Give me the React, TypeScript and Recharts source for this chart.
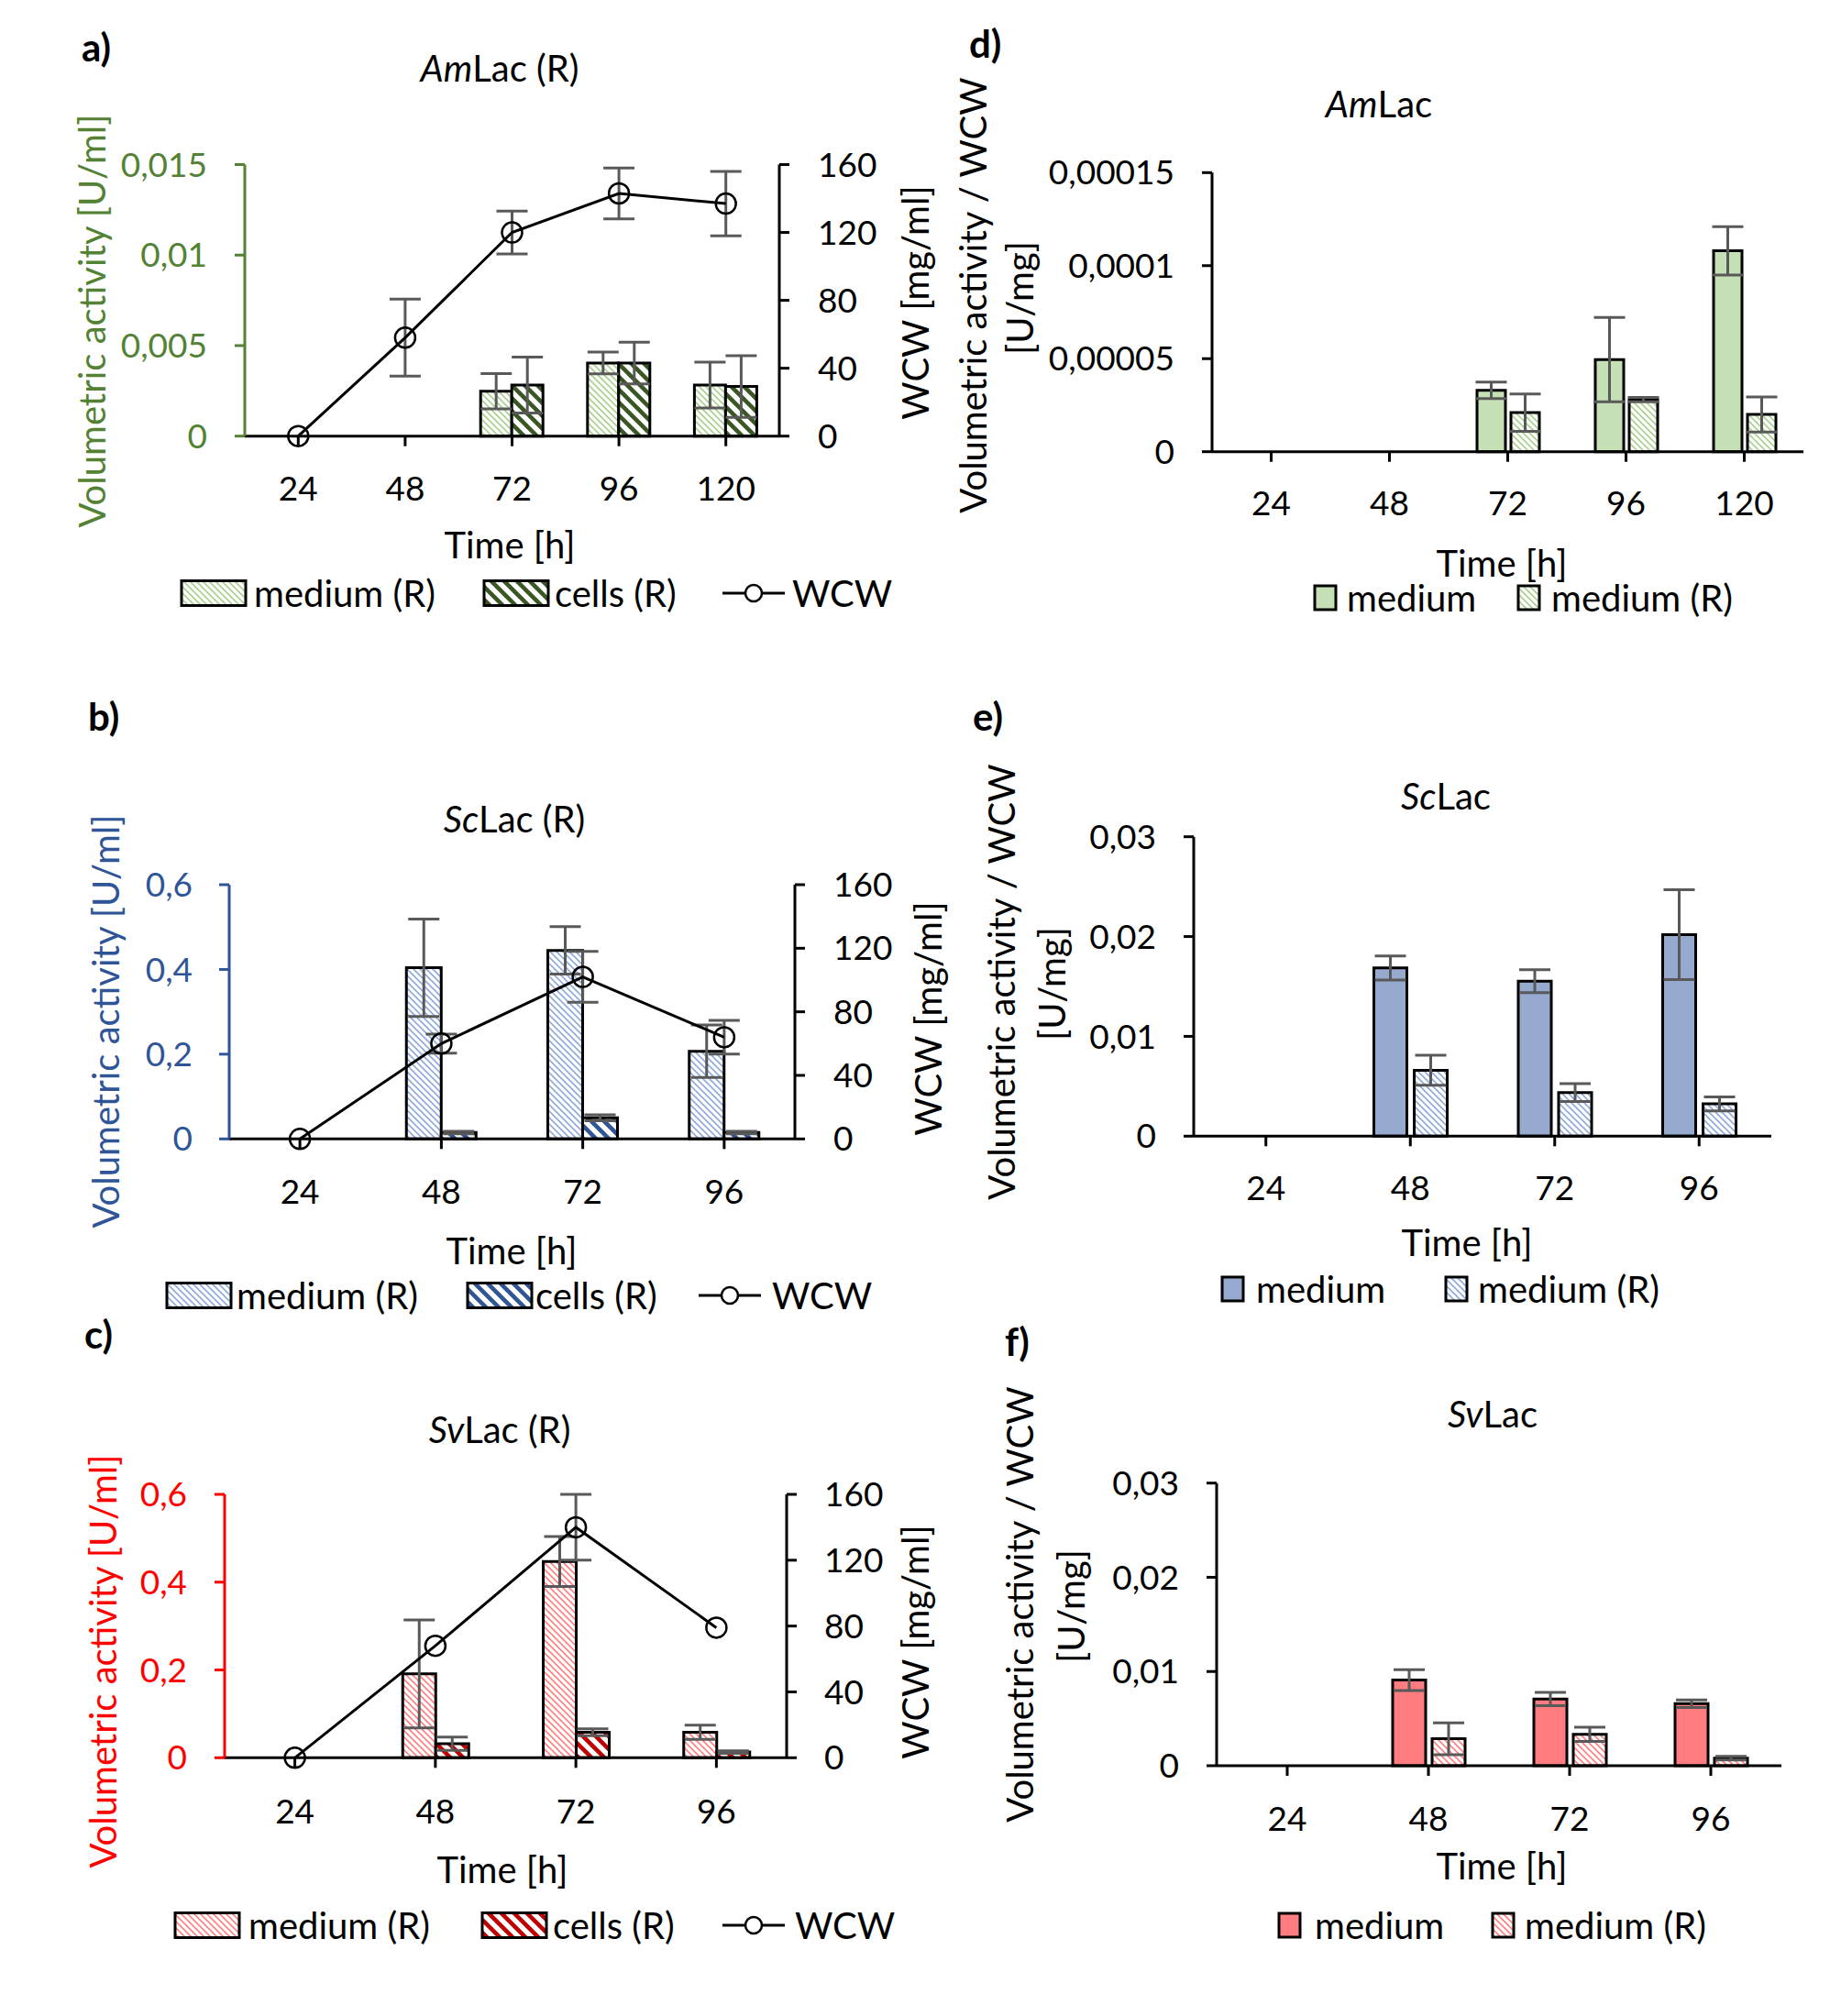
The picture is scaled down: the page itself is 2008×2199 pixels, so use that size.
import React from 'react';
import { ComposedChart, BarChart, Bar, Line, XAxis, YAxis, ErrorBar } from 'recharts';

const FONT = 'Lato, "Open Sans", sans-serif';
const ERR = '#595959';
const GREEN = '#548235';
const BLUE = '#2F5597';
const RED = '#FF0000';

// ---- a) AmLac (R): volumetric activity [U/ml] + WCW [mg/ml]
const amTimes = ['24', '48', '72', '96', '120'];
const amMediumR = [null, null, 0.00248, 0.00404, 0.00282];
const amMediumRErr = [null, null, 0.00097, 0.0006, 0.00127];
const amCellsR = [null, null, 0.00282, 0.00404, 0.00274];
const amCellsRErr = [null, null, 0.00155, 0.00115, 0.0017];
const amWcw = [0, 58, 120, 143, 137];
const amWcwErr = [null, 22.7, 12.6, 15, 19];
const amActTicks = [0, 0.005, 0.01, 0.015];

// ---- b) ScLac (R)
const scTimes = ['24', '48', '72', '96'];
const scMediumR = [null, 0.404, 0.445, 0.207];
const scMediumRErr = [null, 0.115, 0.056, 0.062];
const scCellsR = [null, 0.015, 0.05, 0.015];
const scCellsRErr = [null, 0.003, 0.007, 0.003];
const scWcw = [0, 60, 102, 64];
const scWcwErr = [null, 6, 16, 10.6];

// ---- c) SvLac (R)
const svTimes = ['24', '48', '72', '96'];
const svMediumR = [null, 0.191, 0.447, 0.058];
const svMediumRErr = [null, 0.123, 0.057, 0.016];
const svCellsR = [null, 0.032, 0.058, 0.013];
const svCellsRErr = [null, 0.015, 0.008, 0.003];
const svWcw = [0, 68, 140, 79];
const svWcwErr = [null, null, 20, null];

const lacActTicks = [0, 0.2, 0.4, 0.6];
const wcwTicks = [0, 40, 80, 120, 160];

// ---- d) AmLac specific activity [U/mg]
const amSpecMedium = [null, null, 0.000033, 0.0000495, 0.000108];
const amSpecMediumErr = [null, null, 0.0000044, 0.0000227, 0.000013];
const amSpecMediumR = [null, null, 0.000021, 0.000028, 0.00002];
const amSpecMediumRErr = [null, null, 0.00001, 0.0000012, 0.0000094];
const amSpecTicks = [0, 0.00005, 0.0001, 0.00015];

// ---- e) ScLac specific activity
const scSpecMedium = [null, 0.01685, 0.01553, 0.0202];
const scSpecMediumErr = [null, 0.0012, 0.00115, 0.0045];
const scSpecMediumR = [null, 0.0066, 0.00437, 0.00324];
const scSpecMediumRErr = [null, 0.0015, 0.0009, 0.0007];

// ---- f) SvLac specific activity
const svSpecMedium = [null, 0.00909, 0.00708, 0.00659];
const svSpecMediumErr = [null, 0.0011, 0.0007, 0.0004];
const svSpecMediumR = [null, 0.00286, 0.00334, 0.0008];
const svSpecMediumRErr = [null, 0.0017, 0.00075, 0.0002];

const specTicks = [0, 0.01, 0.02, 0.03];

const dualRows = (times, med, medErr, cells, cellsErr, wcw, wcwErr) =>
  times.map((time, i) => ({
    time,
    medium: med[i],
    mediumErr: medErr[i],
    cells: cells[i],
    cellsErr: cellsErr[i],
    wcw: wcw[i],
    wcwErr: wcwErr[i],
  }));

const specRows = (times, med, medErr, medR, medRErr) =>
  times.map((time, i) => ({
    time,
    medium: med[i],
    mediumErr: medErr[i],
    mediumR: medR[i],
    mediumRErr: medRErr[i],
  }));

const commaFmt = (v: number) => String(v).replace('.', ',');

const Y_W = 100;
const X_H = 60;
const TICK_FS = 37;

function marginFor(box, plot, rightAxis) {
  return {
    top: plot.y0 - box.top,
    bottom: box.top + box.h - plot.y1 - X_H,
    left: plot.x0 - box.left - Y_W,
    right: box.left + box.w - plot.x1 - (rightAxis ? Y_W : 0),
  };
}

const axisStyle = (c: string) => ({ stroke: c, strokeWidth: 3 });
const tickStyle = (c: string) => ({ fill: c, fontSize: TICK_FS, fontFamily: FONT });

function DualPanel({ cfg, rows }) {
  const { box, plot, color, leftMax, leftTicks, barSize, medFill, cellsFill, tm } = cfg;
  return (
    <div style={{ position: 'absolute', left: box.left, top: box.top }}>
      <ComposedChart
        width={box.w}
        height={box.h}
        data={rows}
        margin={marginFor(box, plot, true)}
        barSize={barSize}
        barGap={0}
      >
        <XAxis
          dataKey="time"
          height={X_H}
          tickSize={11}
          tickMargin={tm.x}
          interval={0}
          axisLine={axisStyle('#000')}
          tickLine={axisStyle('#000')}
          tick={tickStyle('#000')}
        />
        <YAxis
          yAxisId="act"
          width={Y_W}
          domain={[0, leftMax]}
          ticks={leftTicks}
          interval={0}
          tickFormatter={commaFmt}
          tickSize={11}
          tickMargin={tm.left}
          axisLine={axisStyle(color)}
          tickLine={axisStyle(color)}
          tick={tickStyle(color)}
        />
        <YAxis
          yAxisId="wcw"
          orientation="right"
          width={Y_W}
          domain={[0, 160]}
          ticks={wcwTicks}
          interval={0}
          tickSize={11}
          tickMargin={tm.right}
          axisLine={axisStyle('#000')}
          tickLine={axisStyle('#000')}
          tick={tickStyle('#000')}
        />
        <Bar yAxisId="act" dataKey="medium" fill={medFill} stroke="#000" strokeWidth={3} isAnimationActive={false}>
          <ErrorBar dataKey="mediumErr" width={17} stroke={ERR} strokeWidth={3} direction="y" />
        </Bar>
        <Bar yAxisId="act" dataKey="cells" fill={cellsFill} stroke="#000" strokeWidth={3} isAnimationActive={false}>
          <ErrorBar dataKey="cellsErr" width={17} stroke={ERR} strokeWidth={3} direction="y" />
        </Bar>
        <Line
          yAxisId="wcw"
          type="linear"
          dataKey="wcw"
          stroke="#000"
          strokeWidth={3}
          dot={{ r: 11, fill: 'none', stroke: '#000', strokeWidth: 2.5 }}
          activeDot={false}
          isAnimationActive={false}
        >
          <ErrorBar dataKey="wcwErr" width={17} stroke={ERR} strokeWidth={3} direction="y" />
        </Line>
      </ComposedChart>
    </div>
  );
}

function SpecPanel({ cfg, rows }) {
  const { box, plot, max, ticks, barSize, barGap, medFill, medRFill, tm } = cfg;
  return (
    <div style={{ position: 'absolute', left: box.left, top: box.top }}>
      <BarChart
        width={box.w}
        height={box.h}
        data={rows}
        margin={marginFor(box, plot, false)}
        barSize={barSize}
        barGap={barGap}
      >
        <XAxis
          dataKey="time"
          height={X_H}
          tickSize={11}
          tickMargin={tm.x}
          interval={0}
          axisLine={axisStyle('#000')}
          tickLine={axisStyle('#000')}
          tick={tickStyle('#000')}
        />
        <YAxis
          width={Y_W}
          domain={[0, max]}
          ticks={ticks}
          interval={0}
          tickFormatter={commaFmt}
          tickSize={11}
          tickMargin={tm.left}
          axisLine={axisStyle('#000')}
          tickLine={axisStyle('#000')}
          tick={tickStyle('#000')}
        />
        <Bar dataKey="medium" fill={medFill} stroke="#000" strokeWidth={3} isAnimationActive={false}>
          <ErrorBar dataKey="mediumErr" width={17} stroke={ERR} strokeWidth={3} direction="y" />
        </Bar>
        <Bar dataKey="mediumR" fill={medRFill} stroke="#000" strokeWidth={3} isAnimationActive={false}>
          <ErrorBar dataKey="mediumRErr" width={17} stroke={ERR} strokeWidth={3} direction="y" />
        </Bar>
      </BarChart>
    </div>
  );
}

function Hatch({ id, color, size, sw }) {
  const s = size;
  return (
    <pattern id={id} patternUnits="userSpaceOnUse" width={s} height={s}>
      <rect width={s} height={s} fill="#fff" />
      <path
        d={`M${-s},${-s} L${2 * s},${2 * s} M${-s},0 L${s},${2 * s} M0,${-s} L${2 * s},${s}`}
        stroke={color}
        strokeWidth={sw}
      />
    </pattern>
  );
}

const panelA = {
  box: { left: 0, top: 100, w: 1000, h: 500 },
  plot: { x0: 267, x1: 850, y0: 179.5, y1: 475.7 },
  color: GREEN,
  leftMax: 0.015,
  leftTicks: amActTicks,
  barSize: 34,
  medFill: 'url(#amMedR)',
  cellsFill: 'url(#amCells)',
  tm: { x: 33, left: 30, right: 31 },
};
const panelB = {
  box: { left: 0, top: 900, w: 1000, h: 480 },
  plot: { x0: 250, x1: 867, y0: 965, y1: 1242.3 },
  color: BLUE,
  leftMax: 0.6,
  leftTicks: lacActTicks,
  barSize: 38,
  medFill: 'url(#scMedR)',
  cellsFill: 'url(#scCells)',
  tm: { x: 33, left: 29, right: 31 },
};
const panelC = {
  box: { left: 0, top: 1580, w: 1000, h: 480 },
  plot: { x0: 245, x1: 858, y0: 1630, y1: 1917.3 },
  color: RED,
  leftMax: 0.6,
  leftTicks: lacActTicks,
  barSize: 36,
  medFill: 'url(#svMedR)',
  cellsFill: 'url(#svCells)',
  tm: { x: 34, left: 30, right: 30 },
};
const panelD = {
  box: { left: 1000, top: 140, w: 1000, h: 480 },
  plot: { x0: 1322, x1: 1967, y0: 188.3, y1: 492.7 },
  max: 0.00015,
  ticks: amSpecTicks,
  barSize: 31,
  barGap: 6,
  medFill: '#C5E0B4',
  medRFill: 'url(#amMedR)',
  tm: { x: 32, left: 30 },
};
const panelE = {
  box: { left: 1000, top: 860, w: 1000, h: 500 },
  plot: { x0: 1302, x1: 1932, y0: 912.7, y1: 1239.3 },
  max: 0.03,
  ticks: specTicks,
  barSize: 36,
  barGap: 8,
  medFill: '#96A9CF',
  medRFill: 'url(#scMedR)',
  tm: { x: 32, left: 30 },
};
const panelF = {
  box: { left: 1000, top: 1560, w: 1000, h: 500 },
  plot: { x0: 1327, x1: 1943, y0: 1617.7, y1: 1926 },
  max: 0.03,
  ticks: specTicks,
  barSize: 36,
  barGap: 7,
  medFill: '#FF7C80',
  medRFill: 'url(#svMedR)',
  tm: { x: 34, left: 30 },
};

const T = { fontFamily: FONT, fontSize: 40, fill: '#000' };

function Title({ x, y, ital, rest }) {
  return (
    <text x={x} y={y} textAnchor="middle" dominantBaseline="central" style={T}>
      <tspan fontStyle="italic">{ital}</tspan>
      <tspan>{rest}</tspan>
    </text>
  );
}

function Letter({ x, y, s }) {
  return (
    <text x={x} y={y} dominantBaseline="central" style={{ ...T, fontSize: 42, fontWeight: 700 }}>
      {s}
    </text>
  );
}

function Mid({ x, y, s, color = '#000' }) {
  return (
    <text x={x} y={y} textAnchor="middle" dominantBaseline="central" style={{ ...T, fill: color }}>
      {s}
    </text>
  );
}

function VText({ x, y, s, color = '#000' }) {
  return (
    <text
      x={x}
      y={y}
      transform={`rotate(-90 ${x} ${y})`}
      textAnchor="middle"
      dominantBaseline="central"
      style={{ ...T, fill: color }}
    >
      {s}
    </text>
  );
}

function Left({ x, y, s }) {
  return (
    <text x={x} y={y} dominantBaseline="central" style={T}>
      {s}
    </text>
  );
}

function DualLegend({ y, items, medFill, cellsFill }) {
  const [m, c, w] = items;
  return (
    <g>
      <rect x={m.sx} y={y - 13.5} width={70} height={27} fill={medFill} stroke="#000" strokeWidth={3} />
      <Left x={m.tx} y={y} s="medium (R)" />
      <rect x={c.sx} y={y - 13.5} width={70} height={27} fill={cellsFill} stroke="#000" strokeWidth={3} />
      <Left x={c.tx} y={y} s="cells (R)" />
      <line x1={w.sx} x2={w.sx + 68} y1={y} y2={y} stroke="#000" strokeWidth={3} />
      <circle cx={w.sx + 34} cy={y} r={9} fill="#fff" stroke="#000" strokeWidth={2.5} />
      <Left x={w.tx} y={y} s="WCW" />
    </g>
  );
}

function SpecLegend({ y, items, medFill, medRFill }) {
  const [m, r] = items;
  return (
    <g>
      <rect x={m.sx} y={y - 13} width={23} height={26} fill={medFill} stroke="#000" strokeWidth={3} />
      <Left x={m.tx} y={y} s="medium" />
      <rect x={r.sx} y={y - 13} width={23} height={26} fill={medRFill} stroke="#000" strokeWidth={3} />
      <Left x={r.tx} y={y} s="medium (R)" />
    </g>
  );
}

export default function App() {
  const rowsA = dualRows(amTimes, amMediumR, amMediumRErr, amCellsR, amCellsRErr, amWcw, amWcwErr);
  const rowsB = dualRows(scTimes, scMediumR, scMediumRErr, scCellsR, scCellsRErr, scWcw, scWcwErr);
  const rowsC = dualRows(svTimes, svMediumR, svMediumRErr, svCellsR, svCellsRErr, svWcw, svWcwErr);
  const rowsD = specRows(amTimes, amSpecMedium, amSpecMediumErr, amSpecMediumR, amSpecMediumRErr);
  const rowsE = specRows(scTimes, scSpecMedium, scSpecMediumErr, scSpecMediumR, scSpecMediumRErr);
  const rowsF = specRows(svTimes, svSpecMedium, svSpecMediumErr, svSpecMediumR, svSpecMediumRErr);

  return (
    <div
      style={{
        position: 'absolute',
        left: 0,
        top: 0,
        width: 2008,
        height: 2199,
        background: '#fff',
        fontFamily: FONT,
        overflow: 'hidden',
      }}
    >
      <svg width={0} height={0} style={{ position: 'absolute' }}>
        <defs>
          <Hatch id="amMedR" color="#A9D18E" size={7} sw={1.6} />
          <Hatch id="amCells" color="#385723" size={14} sw={4.5} />
          <Hatch id="scMedR" color="#8FAADC" size={7} sw={1.6} />
          <Hatch id="scCells" color="#2F5597" size={14} sw={4.5} />
          <Hatch id="svMedR" color="#FF8080" size={7} sw={1.6} />
          <Hatch id="svCells" color="#C00000" size={14} sw={4.5} />
        </defs>
      </svg>

      <DualPanel cfg={panelA} rows={rowsA} />
      <DualPanel cfg={panelB} rows={rowsB} />
      <DualPanel cfg={panelC} rows={rowsC} />
      <SpecPanel cfg={panelD} rows={rowsD} />
      <SpecPanel cfg={panelE} rows={rowsE} />
      <SpecPanel cfg={panelF} rows={rowsF} />

      <svg
        width={2008}
        height={2199}
        style={{ position: 'absolute', left: 0, top: 0, pointerEvents: 'none' }}
      >
        {/* a) */}
        <Letter x={89} y={51} s="a)" />
        <Title x={545} y={74} ital="Am" rest="Lac (R)" />
        <VText x={100} y={350} s="Volumetric activity [U/ml]" color={GREEN} />
        <VText x={998} y={330} s="WCW [mg/ml]" />
        <Mid x={556} y={594} s="Time [h]" />
        <DualLegend
          y={647}
          items={[{ sx: 198, tx: 277 }, { sx: 528, tx: 605 }, { sx: 788, tx: 864 }]}
          medFill="url(#amMedR)"
          cellsFill="url(#amCells)"
        />

        {/* b) */}
        <Letter x={96} y={781} s="b)" />
        <Title x={561} y={893} ital="Sc" rest="Lac (R)" />
        <VText x={115} y={1114} s="Volumetric activity [U/ml]" color={BLUE} />
        <VText x={1012} y={1111} s="WCW [mg/ml]" />
        <Mid x={558} y={1364} s="Time [h]" />
        <DualLegend
          y={1413}
          items={[{ sx: 182, tx: 258 }, { sx: 510, tx: 584 }, { sx: 762, tx: 842 }]}
          medFill="url(#scMedR)"
          cellsFill="url(#scCells)"
        />

        {/* c) */}
        <Letter x={92} y={1455} s="c)" />
        <Title x={545} y={1559} ital="Sv" rest="Lac (R)" />
        <VText x={112} y={1812} s="Volumetric activity [U/ml]" color={RED} />
        <VText x={998} y={1791} s="WCW [mg/ml]" />
        <Mid x={548} y={2039} s="Time [h]" />
        <DualLegend
          y={2100}
          items={[{ sx: 191, tx: 271 }, { sx: 526, tx: 603 }, { sx: 788, tx: 867 }]}
          medFill="url(#svMedR)"
          cellsFill="url(#svCells)"
        />

        {/* d) */}
        <Letter x={1057} y={47} s="d)" />
        <Title x={1504} y={113} ital="Am" rest="Lac" />
        <VText x={1061} y={322} s="Volumetric activity / WCW" />
        <VText x={1112} y={325} s="[U/mg]" />
        <Mid x={1638} y={614} s="Time [h]" />
        <SpecLegend
          y={652}
          items={[{ sx: 1434, tx: 1469 }, { sx: 1656, tx: 1692 }]}
          medFill="#C5E0B4"
          medRFill="url(#amMedR)"
        />

        {/* e) */}
        <Letter x={1061} y={781} s="e)" />
        <Title x={1577} y={868} ital="Sc" rest="Lac" />
        <VText x={1092} y={1071} s="Volumetric activity / WCW" />
        <VText x={1147} y={1073} s="[U/mg]" />
        <Mid x={1600} y={1355} s="Time [h]" />
        <SpecLegend
          y={1406}
          items={[{ sx: 1333, tx: 1370 }, { sx: 1577, tx: 1612 }]}
          medFill="#96A9CF"
          medRFill="url(#scMedR)"
        />

        {/* f) */}
        <Letter x={1096} y={1463} s="f)" />
        <Title x={1628} y={1542} ital="Sv" rest="Lac" />
        <VText x={1112} y={1750} s="Volumetric activity / WCW" />
        <VText x={1168} y={1752} s="[U/mg]" />
        <Mid x={1638} y={2035} s="Time [h]" />
        <SpecLegend
          y={2100}
          items={[{ sx: 1395, tx: 1434 }, { sx: 1628, tx: 1663 }]}
          medFill="#FF7C80"
          medRFill="url(#svMedR)"
        />
      </svg>
    </div>
  );
}
